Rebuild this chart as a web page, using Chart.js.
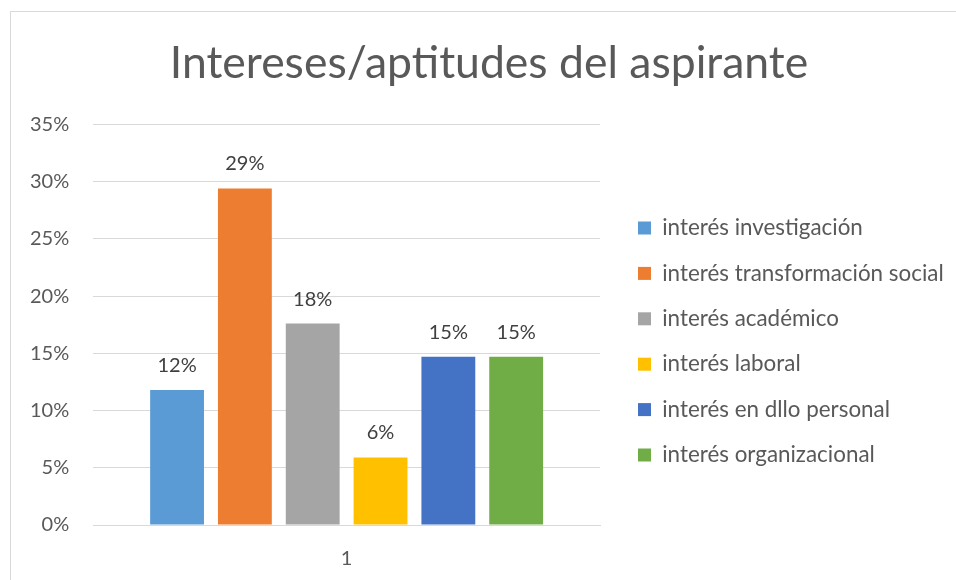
<!DOCTYPE html>
<html>
<head>
<meta charset="utf-8">
<script src="https://cdn.jsdelivr.net/npm/chart.js@4.4.1/dist/chart.umd.min.js"></script>
<style>
  body { margin: 0; background: #fff; overflow: hidden; }
  #frame { position: absolute; left: 10px; top: 11px; width: 960px; height: 600px; border: 1px solid #d9d9d9; }
  #myChart { position: absolute; left: 0; top: 0; }
</style>
</head>
<body>
<div id="frame"><canvas id="myChart" width="945" height="568"></canvas></div>
<script>
//categories and series
const categories = ['1'];
const seriesNames = ['interés investigación', 'interés transformación social', 'interés académico', 'interés laboral', 'interés en dllo personal', 'interés organizacional'];
const seriesValues = [0.118, 0.294, 0.176, 0.059, 0.147, 0.147];
const seriesColors = ['#5B9BD5', '#ED7D31', '#A5A5A5', '#FFC000', '#4472C4', '#70AD47'];

//y axis ticks
const yMax = 0.35;
const yStep = 0.05;

const FONT = 'Lato, "Open Sans", sans-serif';
const legendWidth = 348;
const legendShiftX = 15;
const legendShiftY = 50;

//draws the value labels above each bar
const barLabels = {
    id: 'barLabels',
    afterDatasetsDraw(chart) {
        const ctx = chart.ctx;
        ctx.save();
        ctx.font = '20px ' + FONT;
        ctx.fillStyle = '#404040';
        ctx.textAlign = 'center';
        ctx.textBaseline = 'alphabetic';
        chart.data.datasets.forEach((ds, i) => {
            const meta = chart.getDatasetMeta(i);
            meta.data.forEach((bar, j) => {
                const txt = Math.round(ds.data[j] * 100) + '%';
                ctx.fillText(txt, bar.x, bar.y - 18);
            });
        });
        ctx.restore();
    }
};

//fixed legend width, items pushed away from the plot
const legendGap = {
    id: 'legendGap',
    afterInit(chart) {
        const fit = chart.legend.fit;
        chart.legend.fit = function() {
            fit.call(this);
            this.width = legendWidth;
        };
    },
    afterLayout(chart) {
        const lg = chart.legend;
        lg.left += legendShiftX;
        lg.right = chart.width;
        lg.top += legendShiftY;
        lg.bottom += legendShiftY;
    }
};

const datasets = seriesNames.map((name, i) => ({
    label: name,
    data: [seriesValues[i]],
    backgroundColor: seriesColors[i],
    borderWidth: 0,
    categoryPercentage: 0.803,
    barPercentage: 0.794
}));

var config = {
    type: 'bar',
    data: {
        labels: categories,
        datasets: datasets
    },
    options: {
        responsive: false,
        animation: false,
        layout: {
            padding: { left: 19, right: 8, top: 0, bottom: 9 }
        },
        scales: {
            x: {
                grid: { display: false, drawTicks: false },
                border: { display: true, color: '#d9d9d9', width: 1 },
                ticks: { color: '#595959', font: { size: 20, family: FONT }, padding: 22 },
                afterFit: s => { s.height -= 22; }
            },
            y: {
                min: 0,
                max: yMax,
                grid: { color: '#d9d9d9', lineWidth: 1, drawTicks: false },
                border: { display: false },
                ticks: {
                    stepSize: yStep,
                    color: '#595959',
                    font: { size: 20, family: FONT },
                    padding: 24,
                    callback: v => Math.round(v * 100) + '%'
                },
                afterFit: s => { s.width -= 24; }
            }
        },
        plugins: {
            title: {
                display: true,
                text: 'Intereses/aptitudes del aspirante',
                color: '#595959',
                font: { size: 44.5, family: FONT, weight: 'normal', lineHeight: 1.2 },
                padding: { top: 25, bottom: 34 }
            },
            legend: {
                position: 'right',
                align: 'center',
                labels: {
                    boxWidth: 13,
                    boxHeight: 13,
                    padding: 23,
                    color: '#595959',
                    font: { size: 22.4, family: FONT }
                }
            },
            tooltip: { enabled: false }
        }
    },
    plugins: [barLabels, legendGap]
};

window.onload = function() {
    var ctx = document.getElementById('myChart').getContext('2d');
    window.myChart = new Chart(ctx, config);
};
</script>
</body>
</html>
